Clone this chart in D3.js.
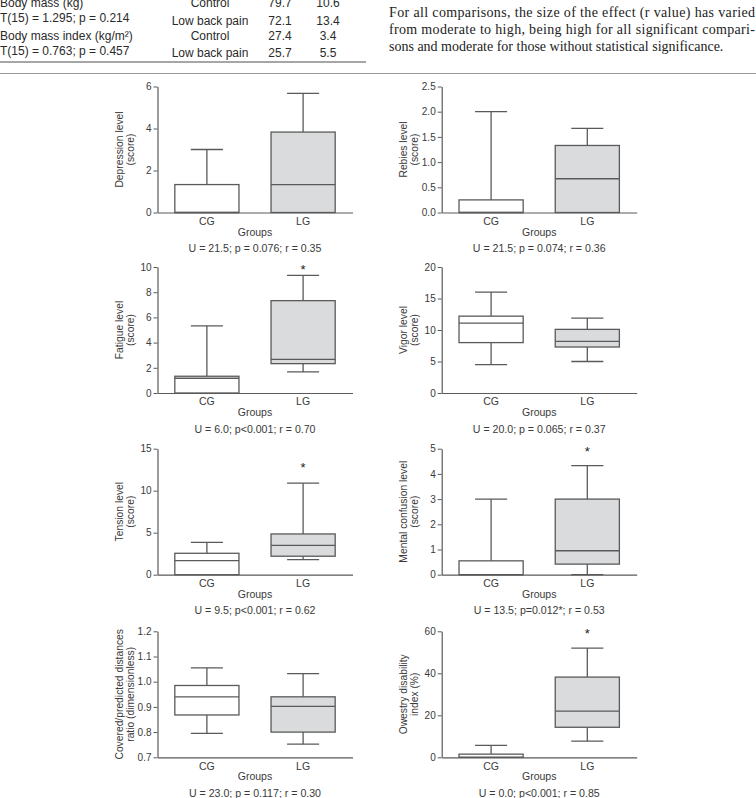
<!DOCTYPE html>
<html>
<head>
<meta charset="utf-8">
<script src="https://cdn.jsdelivr.net/npm/d3@7"></script>
<style>
  html, body { margin: 0; padding: 0; background: #fff; }
  svg { display: block; }
  .sans { font-family: "Liberation Sans", Arial, sans-serif; }
  .serif { font-family: "Liberation Serif", "DejaVu Serif", serif; }
</style>
</head>
<body>
<svg id="viz" width="756" height="798"></svg>
<script>
// ----------------------- DATA

// table fragment at the top
const tableVars = ['Body mass (kg)', 'Body mass index (kg/m²)'];
const tableTests = ['T(15) = 1.295; p = 0.214', 'T(15) = 0.763; p = 0.457'];
const tableGroups = ['Control', 'Low back pain'];
const tableMeans = [[79.7, 72.1], [27.4, 25.7]];
const tableSDs = [[10.6, 13.4], [3.4, 5.5]];

// body text on the right
const paragraphLines = [
  'For all comparisons, the size of the effect (r value) has varied',
  'from moderate to high, being high for all significant compari-',
  'sons and moderate for those without statistical significance.'
];

// boxplot panels
const groups = ['CG', 'LG'];
const yLabels = [
  ['Depression level', '(score)'],
  ['Rebies level', '(score)'],
  ['Fatigue level', '(score)'],
  ['Vigor level', '(score)'],
  ['Tension level', '(score)'],
  ['Mental confusion level', '(score)'],
  ['Covered/predicted distances', 'ratio (dimensionless)'],
  ['Owestry disability', 'index (%)']
];
const yDomains = [[0, 6], [0, 2.5], [0, 10], [0, 20], [0, 15], [0, 5], [0.7, 1.2], [0, 60]];
const yTicks = [
  [0, 2, 4, 6],
  [0, 0.5, 1, 1.5, 2, 2.5],
  [0, 2, 4, 6, 8, 10],
  [0, 5, 10, 15, 20],
  [0, 5, 10, 15],
  [0, 1, 2, 3, 4, 5],
  [0.7, 0.8, 0.9, 1.0, 1.1, 1.2],
  [0, 20, 40, 60]
];
const yTickFormats = ['d', '.1f', 'd', 'd', 'd', 'd', '.1f', 'd'];
// [min, q1, median, q3, max]
const cgStats = [
  [0, 0, 0, 1.33, 3],
  [0, 0, 0, 0.25, 2],
  [0, 0, 1.17, 1.33, 5.33],
  [4.5, 8.0, 11.1, 12.2, 16],
  [0, 0, 1.67, 2.55, 3.85],
  [0, 0, 0, 0.55, 3],
  [0.795, 0.868, 0.94, 0.985, 1.055],
  [0, 0, 0, 1.5, 5.7]
];
const lgStats = [
  [0, 0, 1.33, 3.83, 5.67],
  [0, 0, 0.67, 1.33, 1.67],
  [1.67, 2.33, 2.67, 7.33, 9.33],
  [5, 7.3, 8.2, 10.1, 11.9],
  [1.8, 2.2, 3.5, 4.85, 10.9],
  [0, 0.42, 0.95, 3, 4.33],
  [0.752, 0.8, 0.902, 0.94, 1.032],
  [7.7, 14.3, 22, 38.2, 52]
];
const stars = [null, null, 10, null, 13, 5, null, 60];
const captions = [
  'U = 21.5; p = 0.076; r = 0.35',
  'U = 21.5; p = 0.074; r = 0.36',
  'U = 6.0; p<0.001; r = 0.70',
  'U = 20.0; p = 0.065; r = 0.37',
  'U = 9.5; p<0.001; r = 0.62',
  'U = 13.5; p=0.012*; r = 0.53',
  'U = 23.0; p = 0.117; r = 0.30',
  'U = 0.0; p<0.001; r = 0.85'
];

// ----------------------- SETTINGS
const colX = [157.5, 441.7];
const rowY = [86.5, 267, 448.7, 631.3];
const plotW = 195, plotH = 126;
const ink = '#3a3a3a', line = '#5a5a5a', lgFill = '#d9dbdc';
const sans = 'Liberation Sans, Arial, sans-serif';

const svg = d3.select('#viz');

// ----------------------- TABLE + TEXT
const table = svg.append('g').attr('class', 'sans').attr('fill', '#2a2a2a').style('font-size', '12px');
tableVars.forEach((v, i) => {
  const y0 = i === 0 ? 7 : 39.5;
  table.append('text').attr('x', 0).attr('y', y0).text(v);
  table.append('text').attr('x', 0).attr('y', y0 + 15).text(tableTests[i]);
  tableGroups.forEach((g, j) => {
    const yy = y0 + j * 17.5;
    table.append('text').attr('x', 210).attr('y', yy).attr('text-anchor', 'middle').text(g);
    table.append('text').attr('x', 280).attr('y', yy).attr('text-anchor', 'middle').text(tableMeans[i][j].toFixed(1));
    table.append('text').attr('x', 328).attr('y', yy).attr('text-anchor', 'middle').text(tableSDs[i][j].toFixed(1));
  });
});
svg.append('line').attr('x1', 0).attr('x2', 366).attr('y1', 62).attr('y2', 62)
  .attr('stroke', '#888').attr('stroke-width', 1.5);
svg.append('line').attr('x1', 0).attr('x2', 756).attr('y1', 73.5).attr('y2', 73.5)
  .attr('stroke', '#999').attr('stroke-width', 1);

const para = svg.append('g').attr('class', 'serif').attr('fill', '#222').style('font-size', '14px');
paragraphLines.forEach((t, i) => {
  const txt = para.append('text').attr('x', 389).attr('y', 16.5 + i * 17).text(t);
  if (i < paragraphLines.length - 1) txt.attr('textLength', 366).attr('lengthAdjust', 'spacing');
});

// ----------------------- PANELS
const x = d3.scaleBand().domain(groups).range([0, plotW]).paddingInner(1 / 3).paddingOuter(0.18);

yLabels.forEach((lab, i) => {
  const g = svg.append('g').attr('class', 'sans')
    .attr('transform', `translate(${colX[i % 2]}, ${rowY[Math.floor(i / 2)]})`);

  const y = d3.scaleLinear().domain(yDomains[i]).range([plotH, 0]);

  // axis y
  const ya = g.append('g')
    .call(d3.axisLeft(y).tickValues(yTicks[i]).tickFormat(d3.format(yTickFormats[i]))
      .tickSize(4).tickSizeOuter(0).tickPadding(2));
  ya.select('.domain').attr('stroke', line).attr('stroke-width', 1.2);
  ya.selectAll('.tick line').attr('stroke', line);
  ya.selectAll('.tick text').attr('fill', ink).style('font-size', '10px').style('font-family', sans);

  // axis x
  const xa = g.append('g').attr('transform', `translate(0, ${plotH})`)
    .call(d3.axisBottom(x).tickSize(0).tickSizeOuter(0).tickPadding(5));
  xa.select('.domain').attr('stroke', line).attr('stroke-width', 1.2);
  xa.selectAll('.tick text').attr('fill', ink).style('font-size', '10.5px').style('font-family', sans);

  // labels
  g.append('text').attr('x', plotW / 2).attr('y', plotH + 23).attr('text-anchor', 'middle')
    .attr('fill', ink).style('font-size', '10.5px').text('Groups');
  g.append('text').attr('x', plotW / 2).attr('y', plotH + 39.5).attr('text-anchor', 'middle')
    .attr('fill', ink).style('font-size', '10.6px').text(captions[i]);
  lab.forEach((l, k) => {
    g.append('text')
      .attr('transform', `translate(${-38 + k * 11}, ${plotH / 2}) rotate(-90)`)
      .attr('text-anchor', 'middle').attr('dy', '0.35em')
      .attr('fill', ink).style('font-size', '10.3px').text(l);
  });

  // boxes
  const stats = [cgStats[i], lgStats[i]];
  const bw = x.bandwidth();
  groups.forEach((grp, j) => {
    const [mn, q1, md, q3, mx] = stats[j];
    const cx = x(grp) + bw / 2;
    const b = g.append('g').attr('stroke', line).attr('stroke-width', 1.3);
    if (mx > q3) {
      b.append('line').attr('x1', cx).attr('x2', cx).attr('y1', y(q3)).attr('y2', y(mx));
      b.append('line').attr('x1', cx - bw / 4).attr('x2', cx + bw / 4).attr('y1', y(mx)).attr('y2', y(mx));
    }
    if (mn < q1) {
      b.append('line').attr('x1', cx).attr('x2', cx).attr('y1', y(q1)).attr('y2', y(mn));
      b.append('line').attr('x1', cx - bw / 4).attr('x2', cx + bw / 4).attr('y1', y(mn)).attr('y2', y(mn));
    }
    b.append('rect').attr('x', x(grp)).attr('width', bw)
      .attr('y', y(q3)).attr('height', Math.max(0, y(q1) - y(q3)))
      .attr('fill', j === 0 ? '#fff' : lgFill);
    b.append('line').attr('x1', x(grp)).attr('x2', x(grp) + bw).attr('y1', y(md)).attr('y2', y(md));
  });

  // significance marker
  if (stars[i] !== null) {
    g.append('text').attr('x', x('LG') + bw / 2).attr('y', y(stars[i]) + 7)
      .attr('text-anchor', 'middle').attr('fill', '#222').style('font-size', '13px').text('*');
  }
});
</script>
</body>
</html>
